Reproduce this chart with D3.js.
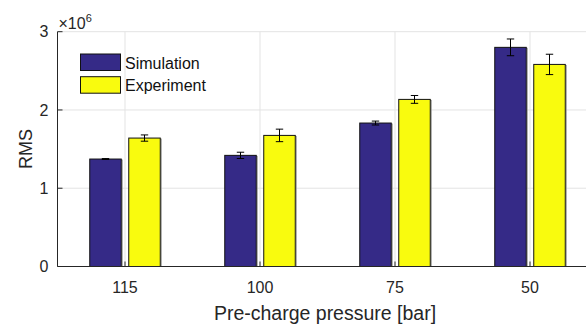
<!DOCTYPE html>
<html><head><meta charset="utf-8">
<script src="https://cdn.jsdelivr.net/npm/d3@7"></script>
<style>body{margin:0;background:#fff}svg{display:block;font-family:"Liberation Sans",Arial,sans-serif}</style>
</head><body><svg id="c" width="586" height="327"></svg>
<script>
const categories = ["115", "100", "75", "50"];
const seriesNames = ["Simulation", "Experiment"];
const simulation = [1.373, 1.42, 1.833, 2.80];
const experiment = [1.641, 1.675, 2.135, 2.582];
const simErr = [0.006, 0.04, 0.025, 0.107];
const expErr = [0.04, 0.08, 0.05, 0.13];
const yTicks = [0, 1, 2, 3];
const colors = ["#352a87", "#f9fb0e"];

const svg = d3.select("#c");
const pL = 57.5, pR = 597.5, pT = 31.7, pB = 266.5;
const x = d3.scaleBand().domain(categories).range([pL, pR]).paddingInner(0).paddingOuter(0);
const y = d3.scaleLinear().domain([0, 3]).range([pB, pT]);
const textCol = "#262626";

const g = svg.append("g");
g.selectAll(".hg").data(yTicks.slice(1)).join("line")
  .attr("x1", pL).attr("x2", 586).attr("y1", d => y(d)).attr("y2", d => y(d))
  .attr("stroke", "#e3e3e3").attr("stroke-width", 1);
g.selectAll(".vg").data(categories).join("line")
  .attr("x1", d => x(d) + x.bandwidth()/2).attr("x2", d => x(d) + x.bandwidth()/2)
  .attr("y1", pT).attr("y2", pB)
  .attr("stroke", "#e3e3e3").attr("stroke-width", 1);

const series = [simulation, experiment];
const errs = [simErr, expErr];
const offsets = [-19.5, 19.5];
const bw = 31.5;
series.forEach((vals, si) => {
  const rows = categories.map((c, i) => ({c, v: vals[i], e: errs[si][i]}));
  const cx = d => x(d.c) + x.bandwidth()/2 + offsets[si];
  svg.append("g").selectAll("rect").data(rows).join("rect")
    .attr("x", d => cx(d) - bw/2 + 1).attr("y", d => y(d.v) + 1)
    .attr("width", bw).attr("height", d => pB - y(d.v) - 1)
    .attr("fill", "none").attr("stroke", "#999").attr("stroke-width", 1);
  svg.append("g").selectAll("rect").data(rows).join("rect")
    .attr("x", d => cx(d) - bw/2).attr("y", d => y(d.v))
    .attr("width", bw).attr("height", d => pB - y(d.v))
    .attr("fill", colors[si]).attr("stroke", "#111").attr("stroke-width", 1);
  const eg = svg.append("g").attr("stroke", "#000").attr("stroke-width", 1);
  rows.forEach(d => {
    const c = cx(d), y1 = y(d.v + d.e), y2 = y(d.v - d.e);
    eg.append("line").attr("x1", c).attr("x2", c).attr("y1", y1).attr("y2", y2);
    eg.append("line").attr("x1", c - 3.7).attr("x2", c + 3.7).attr("y1", y1).attr("y2", y1);
    eg.append("line").attr("x1", c - 3.7).attr("x2", c + 3.7).attr("y1", y2).attr("y2", y2);
  });
});

svg.append("line").attr("x1", pL).attr("x2", pL).attr("y1", pT).attr("y2", pB).attr("stroke", "#262626");
svg.append("line").attr("x1", pL).attr("x2", 586).attr("y1", pB).attr("y2", pB).attr("stroke", "#262626");
svg.selectAll(".yt").data(yTicks).join("line")
  .attr("x1", pL).attr("x2", pL + 5).attr("y1", d => y(d)).attr("y2", d => y(d)).attr("stroke", "#262626");
svg.selectAll(".yl").data(yTicks).join("text")
  .attr("x", pL - 9).attr("y", d => y(d)).attr("dy", "0.35em")
  .attr("text-anchor", "end").attr("font-size", 16).attr("fill", textCol).text(d => d);
svg.selectAll(".xt").data(categories).join("line")
  .attr("x1", d => x(d) + x.bandwidth()/2).attr("x2", d => x(d) + x.bandwidth()/2)
  .attr("y1", pB).attr("y2", pB - 5).attr("stroke", "#262626");
svg.selectAll(".xl").data(categories).join("text")
  .attr("x", d => x(d) + x.bandwidth()/2).attr("y", 293)
  .attr("text-anchor", "middle").attr("font-size", 16).attr("fill", textCol).text(d => d);
svg.append("text").attr("x", 325).attr("y", 320).attr("text-anchor", "middle")
  .attr("font-size", 19.5).attr("fill", textCol).text("Pre-charge pressure [bar]");
svg.append("text").attr("transform", `translate(31.5,${(pT+pB)/2}) rotate(-90)`)
  .attr("text-anchor", "middle").attr("font-size", 18).attr("fill", textCol).text("RMS");
const ex = svg.append("text").attr("x", 58.5).attr("y", 28.5).attr("font-size", 16).attr("fill", textCol);
ex.append("tspan").text("×10");
ex.append("tspan").attr("font-size", 11).attr("dy", -7).text("6");

const lg = svg.append("g");
seriesNames.forEach((n, i) => {
  const yy = 54 + i * 22.7;
  lg.append("rect").attr("x", 80.5).attr("y", yy).attr("width", 40).attr("height", 16.5)
    .attr("fill", colors[i]).attr("stroke", "#111");
  lg.append("text").attr("x", 125).attr("y", yy + 9).attr("dy", "0.35em")
    .attr("font-size", 16).attr("fill", "#111").text(n);
});
</script></body></html>
